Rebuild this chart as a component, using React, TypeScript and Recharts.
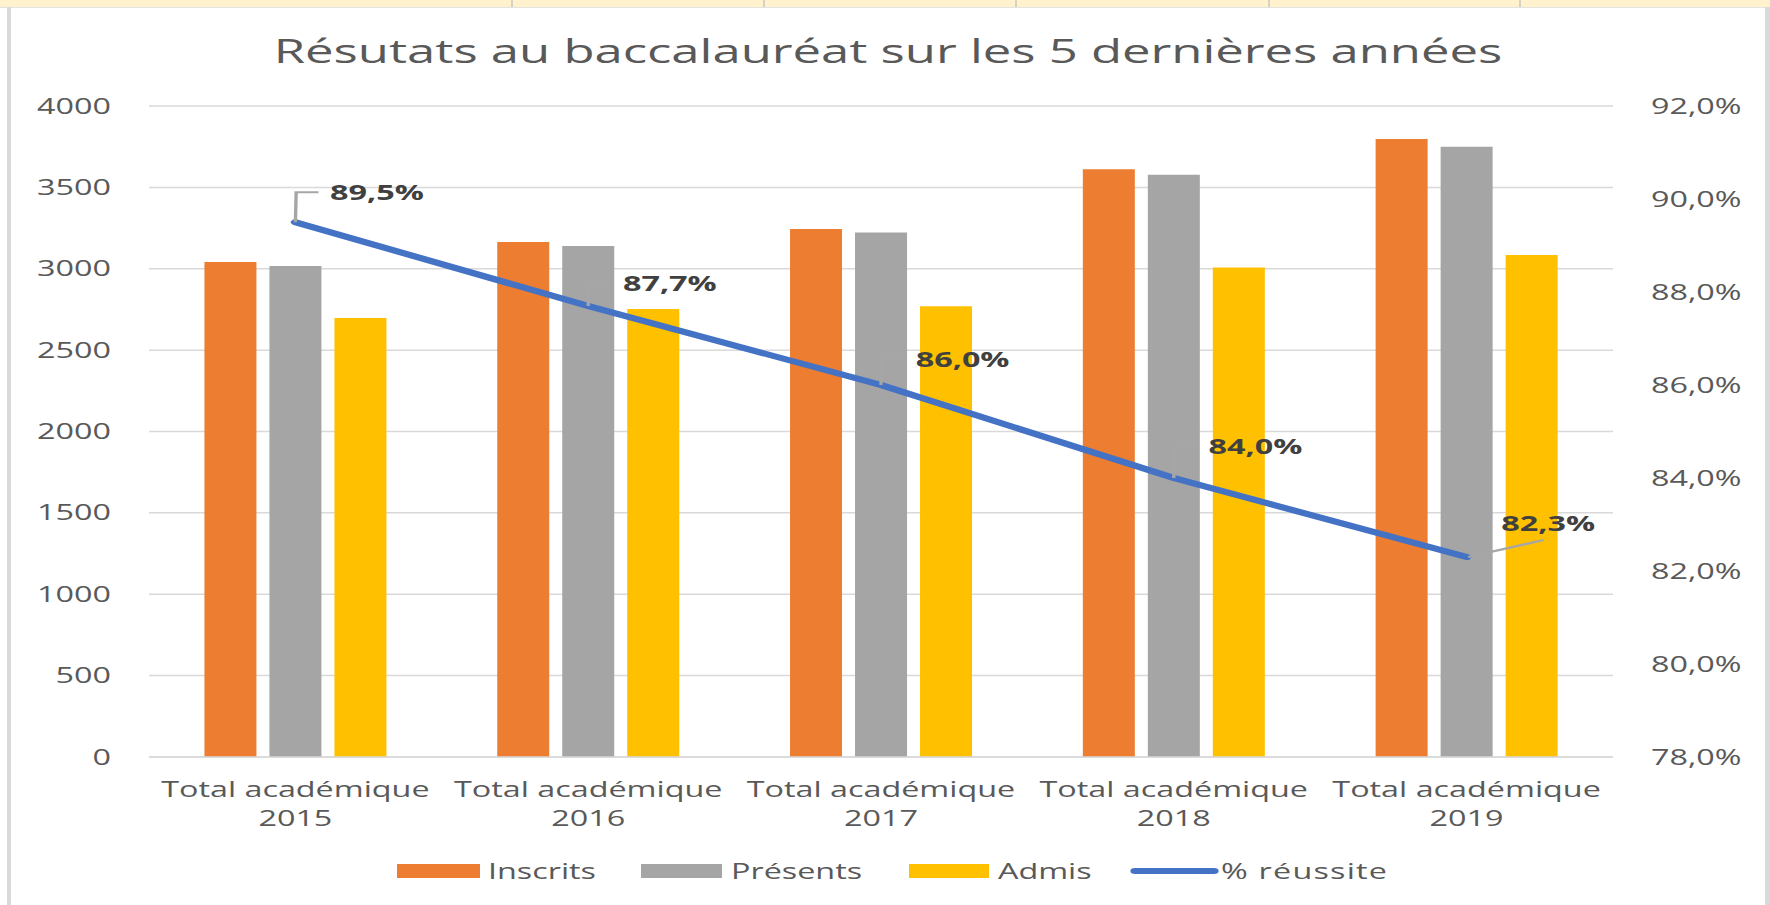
import React from 'react';
import { ComposedChart, Bar, Line, XAxis, YAxis, CartesianGrid, LabelList } from 'recharts';

// ---- data ----
const categories = [
  'Total académique 2015',
  'Total académique 2016',
  'Total académique 2017',
  'Total académique 2018',
  'Total académique 2019',
];
const inscrits = [3041, 3165, 3244, 3611, 3798];
const presents = [3017, 3140, 3223, 3577, 3750];
const admis = [2698, 2752, 2770, 3008, 3085];
const reussite = [89.5, 87.7, 86.0, 84.0, 82.3];
const leftTicks = [0, 500, 1000, 1500, 2000, 2500, 3000, 3500, 4000];
const rightTicks = [78, 80, 82, 84, 86, 88, 90, 92];

const data = categories.map((c, i) => ({
  category: c,
  inscrits: inscrits[i],
  presents: presents[i],
  admis: admis[i],
  reussite: reussite[i],
}));

// ---- layout / style ----
const K = 1.54; // horizontal stretch of the reference picture
const W = 1770;
const H = 905;
const W0 = W / K;
const PLOT_LEFT = 149 / K;
const PLOT_RIGHT = 1613 / K;
const PLOT_TOP = 106;
const PLOT_BOTTOM = 757;
const FONT = '"Open Sans", "Noto Sans", sans-serif';
const TEXT = '#595959';
const GRID = '#D9D9D9';
const C_INS = '#ED7D31';
const C_PRE = '#A5A5A5';
const C_ADM = '#FFC000';
const C_PCT = '#4472C4';

const LABEL_DX = 53;
const LABEL_DY = [-30, -23, -26, -32, -34];

const fmtPct = (v: number) => `${v.toFixed(1).replace('.', ',')}%`;

const LeftTick = (p: any) => (
  <text x={p.x} y={p.y} dy="0.36em" textAnchor="end" fill={TEXT} fontSize={21} fontFamily={FONT}>
    {p.payload.value}
  </text>
);

const RightTick = (p: any) => (
  <text x={p.x} y={p.y} dy="0.36em" textAnchor="start" fill={TEXT} fontSize={21} fontFamily={FONT}>
    {fmtPct(p.payload.value)}
  </text>
);

const XTick = (p: any) => {
  const s: string = p.payload.value;
  const k = s.lastIndexOf(' ');
  const l1 = s.slice(0, k);
  const l2 = s.slice(k + 1);
  return (
    <g>
      <text x={p.x} y={p.y + 32} dy="0.36em" textAnchor="middle" fill={TEXT} fontSize={21} fontFamily={FONT}>
        {l1}
      </text>
      <text x={p.x} y={p.y + 61} dy="0.36em" textAnchor="middle" fill={TEXT} fontSize={21} fontFamily={FONT}>
        {l2}
      </text>
    </g>
  );
};

const PctLabel = (p: any) => {
  const { x, y, value, index } = p;
  const dy = LABEL_DY[index] ?? -30;
  const lx = x + LABEL_DX;
  const ly = y + dy;
  let leader: any;
  if (index === categories.length - 1) {
    leader = <path d={`M${x + 1},${y} L${x + 50},${y - 17}`} stroke="#A6A6A6" strokeWidth={2.2} fill="none" />;
  } else {
    leader = (
      <path d={`M${x},${y} L${x + 0.5},${ly} L${x + 15},${ly}`} stroke="#A6A6A6" strokeWidth={2.2} fill="none" />
    );
  }
  return (
    <g>
      {leader}
      <text x={lx} y={ly} dy="0.36em" textAnchor="middle" fill="#404040" fontWeight={700} fontSize={21} fontFamily={FONT}>
        {fmtPct(value)}
      </text>
    </g>
  );
};

const legendItems = [
  { name: 'Inscrits', color: C_INS, kind: 'rect', x0: 397, x1: 480, tx: 488, ls: 0 },
  { name: 'Présents', color: C_PRE, kind: 'rect', x0: 641, x1: 722, tx: 731, ls: 0 },
  { name: 'Admis', color: C_ADM, kind: 'rect', x0: 909, x1: 989, tx: 998, ls: 0 },
  { name: '% réussite', color: C_PCT, kind: 'line', x0: 1135, x1: 1214, tx: 1221, ls: 0.8 },
];

export default function App() {
  return (
    <div style={{ position: 'absolute', left: 0, top: 0, width: W, height: H, background: '#fff', overflow: 'hidden' }}>
      {/* spreadsheet frame decor */}
      <div style={{ position: 'absolute', left: 0, top: 0, width: W, height: 7, background: '#FFF2CC' }} />
      {[511, 763, 1015, 1268, 1519].map((x) => (
        <div key={x} style={{ position: 'absolute', left: x, top: 0, width: 2, height: 7, background: '#D6D2C4' }} />
      ))}
      <div style={{ position: 'absolute', left: 0, top: 7, width: W, height: 1, background: '#E3E3E3' }} />
      <div style={{ position: 'absolute', left: 7, top: 7, width: 4, height: H - 7, background: '#D9D9D9' }} />
      <div style={{ position: 'absolute', left: 1765, top: 7, width: 5, height: H - 7, background: '#D9D9D9' }} />

      <div style={{ position: 'absolute', left: 0, top: 0, width: W0, height: H, transform: `scaleX(${K})`, transformOrigin: '0 0' }}>
        <div style={{ position: 'absolute', left: 0, top: 0 }}>
          <ComposedChart
            width={W0}
            height={H}
            data={data}
            margin={{ top: PLOT_TOP, right: 0, bottom: 0, left: 0 }}
            barSize={52 / K}
            barGap={13 / K}
          >
            <CartesianGrid yAxisId="left" vertical={false} stroke={GRID} strokeWidth={1.5} />
            <XAxis
              dataKey="category"
              xAxisId={0}
              height={H - PLOT_BOTTOM}
              interval={0}
              tickLine={false}
              tickSize={0}
              tickMargin={0}
              axisLine={{ stroke: GRID, strokeWidth: 1.5 }}
              tick={<XTick />}
            />
            <YAxis
              yAxisId="left"
              orientation="left"
              width={PLOT_LEFT}
              domain={[0, 4000]}
              ticks={leftTicks}
              interval={0}
              axisLine={false}
              tickLine={false}
              tickSize={0}
              tickMargin={PLOT_LEFT - 111 / K}
              tick={<LeftTick />}
            />
            <YAxis
              yAxisId="right"
              orientation="right"
              width={W0 - PLOT_RIGHT}
              domain={[78, 92]}
              ticks={rightTicks}
              interval={0}
              axisLine={false}
              tickLine={false}
              tickSize={0}
              tickMargin={1651 / K - PLOT_RIGHT}
              tick={<RightTick />}
            />
            <Bar yAxisId="left" dataKey="inscrits" name="Inscrits" fill={C_INS} isAnimationActive={false} />
            <Bar yAxisId="left" dataKey="presents" name="Présents" fill={C_PRE} isAnimationActive={false} />
            <Bar yAxisId="left" dataKey="admis" name="Admis" fill={C_ADM} isAnimationActive={false} />
            <Line
              yAxisId="right"
              type="linear"
              dataKey="reussite"
              name="% réussite"
              stroke={C_PCT}
              strokeWidth={6}
              strokeLinecap="round"
              strokeLinejoin="round"
              dot={false}
              activeDot={false}
              isAnimationActive={false}
            >
              <LabelList dataKey="reussite" content={<PctLabel />} />
            </Line>
          </ComposedChart>
        </div>
        <svg
          width={W0}
          height={H}
          style={{ position: 'absolute', left: 0, top: 0, pointerEvents: 'none' }}
        >
          <text x={888 / K} y={63.5} textAnchor="middle" fill={TEXT} fontSize={33} fontFamily={FONT}>
            Résutats au baccalauréat sur les 5 dernières années
          </text>
          {legendItems.map((it) => (
            <g key={it.name}>
              {it.kind === 'rect' ? (
                <rect x={it.x0 / K} y={864} width={(it.x1 - it.x0) / K} height={14} fill={it.color} />
              ) : (
                <line x1={it.x0 / K} y1={871} x2={it.x1 / K} y2={871} stroke={it.color} strokeWidth={6} strokeLinecap="round" />
              )}
              <text x={it.tx / K} y={879} fill={TEXT} fontSize={21} fontFamily={FONT} letterSpacing={it.ls}>
                {it.name}
              </text>
            </g>
          ))}
        </svg>
      </div>
    </div>
  );
}
